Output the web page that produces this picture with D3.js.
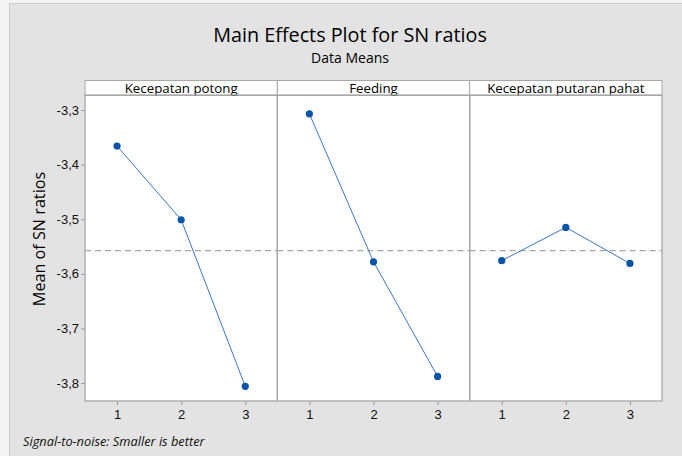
<!DOCTYPE html>
<html>
<head>
<meta charset="utf-8">
<script src="https://cdn.jsdelivr.net/npm/d3@7"></script>
<style>
  body { margin: 0; background: #f4f4f4; }
  svg { display: block; font-family: "Open Sans", "Noto Sans", sans-serif; }
</style>
</head>
<body>
<div id="main"></div>
<script>
// data
const factors = ["Kecepatan potong", "Feeding", "Kecepatan putaran pahat"]
const levels = [1, 2, 3]
const kecepatanPotong = [-3.366, -3.501, -3.806]
const feeding = [-3.307, -3.578, -3.788]
const putaranPahat = [-3.576, -3.515, -3.581]
const yTicks = [-3.3, -3.4, -3.5, -3.6, -3.7, -3.8]

const series = [kecepatanPotong, feeding, putaranPahat]

let width = 682
let height = 456
let plotLeft = 85, plotRight = 662, plotTop = 80, strip = 15, plotBottom = 401
let panelW = (plotRight - plotLeft) / 3

let svg = d3.select('#main')
            .append('svg')
            .attr('width', width)
            .attr('height', height)

// grey chart background
svg.append('rect')
    .attr('x', 9.5).attr('y', 3.5)
    .attr('width', width).attr('height', height)
    .style('fill', '#e3e3e3')
    .style('stroke', '#c9c9c9')

svg.append('text')
    .attr('x', 350).attr('y', 42)
    .style('text-anchor', 'middle')
    .style('font-size', '19.8px')
    .style('fill', '#000')
    .text('Main Effects Plot for SN ratios')

svg.append('text')
    .attr('x', 350).attr('y', 63)
    .style('text-anchor', 'middle')
    .style('font-size', '14px')
    .style('fill', '#000')
    .text('Data Means')

let yScale = d3.scaleLinear().domain([-3.3, -3.8]).range([110, 383])
let fmt = (d) => d.toFixed(1).replace('.', ',')

// white plot area
svg.append('rect')
    .attr('x', plotLeft).attr('y', plotTop + strip)
    .attr('width', plotRight - plotLeft).attr('height', plotBottom - plotTop - strip)
    .style('fill', 'white')

let yAxis = d3.axisLeft(yScale).tickValues(yTicks).tickFormat(fmt).tickSize(4).tickSizeOuter(0)
let gy = svg.append('g')
    .attr('transform', `translate(${plotLeft}, 0)`)
    .call(yAxis)
gy.select('.domain').remove()
gy.selectAll('line').style('stroke', '#9a9a9a')
gy.selectAll('text').style('font-size', '13px').style('fill', '#111').attr('x', -6)

svg.append('text')
    .attr('transform', 'translate(45, 239) rotate(-90)')
    .style('text-anchor', 'middle')
    .style('font-size', '16.2px')
    .style('fill', '#000')
    .text('Mean of SN ratios')

let grandMean = d3.mean(series.flat())

let line = d3.line()

factors.forEach((name, i) => {
    let x0 = plotLeft + i * panelW
    let xScale = d3.scaleLinear().domain([0.5, 3.5]).range([x0, x0 + panelW])

    // header strip
    svg.append('rect')
        .attr('x', x0).attr('y', plotTop + 0.5)
        .attr('width', panelW).attr('height', strip)
        .style('fill', 'white')
        .style('stroke', '#a8a8a8')
    svg.append('text')
        .attr('x', x0 + panelW / 2).attr('y', plotTop + 12.5)
        .style('text-anchor', 'middle')
        .style('font-size', '13.3px')
        .style('fill', '#000')
        .text(name)

    let xAxis = d3.axisBottom(xScale).tickValues(levels).tickFormat(d3.format('d')).tickSize(4).tickSizeOuter(0)
    let gx = svg.append('g')
        .attr('transform', `translate(0, ${plotBottom})`)
        .call(xAxis)
    gx.select('.domain').remove()
    gx.selectAll('line').style('stroke', '#9a9a9a')
    gx.selectAll('text').style('font-size', '13px').style('fill', '#111').attr('y', 9)

    // grand mean reference
    svg.append('line')
        .attr('x1', x0).attr('x2', x0 + panelW)
        .attr('y1', yScale(grandMean)).attr('y2', yScale(grandMean))
        .style('stroke', '#a6a6a6')
        .style('stroke-dasharray', '6,4')
        .style('stroke-width', 1.2)

    let pts = levels.map((lv, j) => [xScale(lv), yScale(series[i][j])])
    svg.append('path')
        .attr('d', line(pts))
        .style('fill', 'none')
        .style('stroke', '#3a78c2')
        .style('stroke-width', 1)

    svg.selectAll('.dot' + i)
        .data(pts)
        .enter()
        .append('circle')
        .attr('cx', (d) => d[0])
        .attr('cy', (d) => d[1])
        .attr('r', 3.6)
        .style('fill', '#0b55a8')
})

// panel frames
for (let i = 0; i < 3; i++) {
    svg.append('rect')
        .attr('x', plotLeft + i * panelW).attr('y', plotTop + strip)
        .attr('width', panelW).attr('height', plotBottom - plotTop - strip)
        .style('fill', 'none')
        .style('stroke', '#a8a8a8')
        .style('stroke-width', 1.3)
}

svg.append('text')
    .attr('x', 23).attr('y', 446)
    .style('font-size', '12.8px')
    .style('font-style', 'italic')
    .style('fill', '#111')
    .text('Signal-to-noise: Smaller is better')
</script>
</body>
</html>
